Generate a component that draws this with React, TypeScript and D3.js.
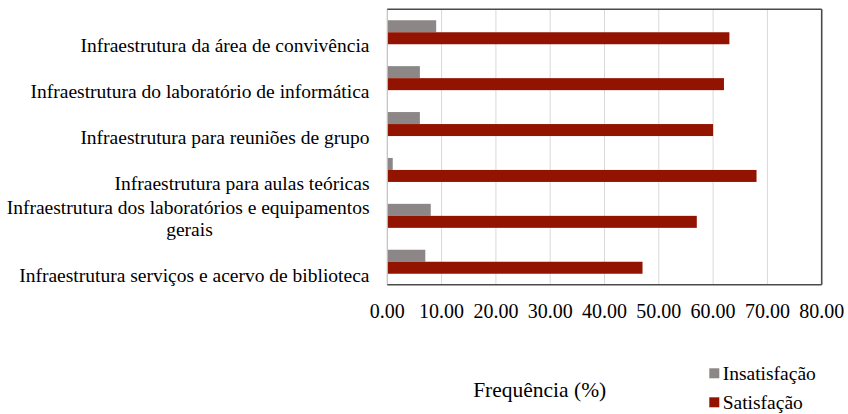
import React from "react";
import * as d3 from "d3";

// categories, top to bottom (multi-line labels split into lines)
const categories = [
  "Infraestrutura da área de convivência",
  "Infraestrutura do laboratório de informática",
  "Infraestrutura para reuniões de grupo",
  "Infraestrutura para aulas teóricas",
  "Infraestrutura dos laboratórios e equipamentos gerais",
  "Infraestrutura serviços e acervo de biblioteca",
];
const categoryLines = [
  ["Infraestrutura da área de convivência"],
  ["Infraestrutura do laboratório de informática"],
  ["Infraestrutura para reuniões de grupo"],
  ["Infraestrutura para aulas teóricas"],
  ["Infraestrutura dos laboratórios e equipamentos", "gerais"],
  ["Infraestrutura serviços e acervo de biblioteca"],
];

const series = ["Insatisfação", "Satisfação"];
const insatisfacao = [9, 6, 6, 1, 8, 7];
const satisfacao = [63, 62, 60, 68, 57, 47];
const xTicks = [0, 10, 20, 30, 40, 50, 60, 70, 80];
const axisTitle = "Frequência (%)";

const colors: Record<string, string> = {
  "Insatisfação": "#8c8686",
  "Satisfação": "#921400",
};

const W = 848;
const H = 414;
const left = 387.3;
const right = 821.7;
const top = 9.3;
const bottom = 284.7;
const barH = 12;
const font = `"Liberation Serif"`;

export default function App() {
  const x = d3.scaleLinear().domain([0, 80]).range([left, right]);
  const y = d3.scaleBand<string>().domain(categories).range([top, bottom]).padding(0);
  const bw = y.bandwidth();
  const sub = d3
    .scaleBand<string>()
    .domain(series)
    .range([bw / 2 - barH, bw / 2 + barH]);
  const fmt = d3.format(".2f");

  const values: Record<string, number[]> = {
    "Insatisfação": insatisfacao,
    "Satisfação": satisfacao,
  };

  return (
    <svg
      width={W}
      height={H}
      style={{ position: "absolute", left: 0, top: 0, background: "#fff", fontFamily: font }}
    >
      {/* gridlines */}
      {xTicks.slice(1, -1).map((t) => (
        <line key={t} x1={x(t)} x2={x(t)} y1={top} y2={bottom} stroke="#d9d9d9" strokeWidth={1} />
      ))}

      {/* bars */}
      {categories.map((c, i) =>
        series.map((s) => (
          <rect
            key={c + s}
            x={x(0)}
            y={(y(c) as number) + (sub(s) as number)}
            width={x(values[s][i]) - x(0)}
            height={sub.bandwidth()}
            fill={colors[s]}
          />
        ))
      )}

      {/* frame */}
      <line x1={left} x2={left} y1={top} y2={bottom} stroke="#c0c0c0" strokeWidth={1.2} />
      <line x1={left} x2={right} y1={top} y2={top} stroke="#4a4a4a" strokeWidth={1.6} />
      <line x1={right} x2={right} y1={top} y2={bottom} stroke="#4a4a4a" strokeWidth={1.6} />
      <line x1={left} x2={right} y1={bottom} y2={bottom} stroke="#4a4a4a" strokeWidth={1.6} />

      {/* category labels */}
      {categories.map((c, i) => {
        const lines = categoryLines[i];
        const base = (y(c) as number) + bw / 2 + 20;
        return (
          <text key={c} fontSize={19.5} fill="#000" style={{ fontFamily: font }}>
            {lines.map((l, j) => (
              <tspan
                key={j}
                x={lines.length > 1 && j > 0 ? 189.5 : 369.5}
                y={base - (lines.length - 1 - j) * 22}
                textAnchor={lines.length > 1 && j > 0 ? "middle" : "end"}
              >
                {l}
              </tspan>
            ))}
          </text>
        );
      })}

      {/* x tick labels */}
      {xTicks.map((t) => (
        <text key={t} x={x(t)} y={317.7} textAnchor="middle" fontSize={20} fill="#000" style={{ fontFamily: font }}>
          {fmt(t)}
        </text>
      ))}

      {/* axis title */}
      <text x={539.7} y={396.7} textAnchor="middle" fontSize={21.5} fill="#000" style={{ fontFamily: font }}>
        {axisTitle}
      </text>

      {/* legend */}
      {series.map((s, i) => (
        <g key={s} transform={`translate(709.3, ${368.3 + i * 29})`}>
          <rect x={0} y={0} width={10} height={10} fill={colors[s]} />
          <text x={13.4} y={11.7} fontSize={19.5} fill="#000" style={{ fontFamily: font }}>
            {s}
          </text>
        </g>
      ))}
    </svg>
  );
}
